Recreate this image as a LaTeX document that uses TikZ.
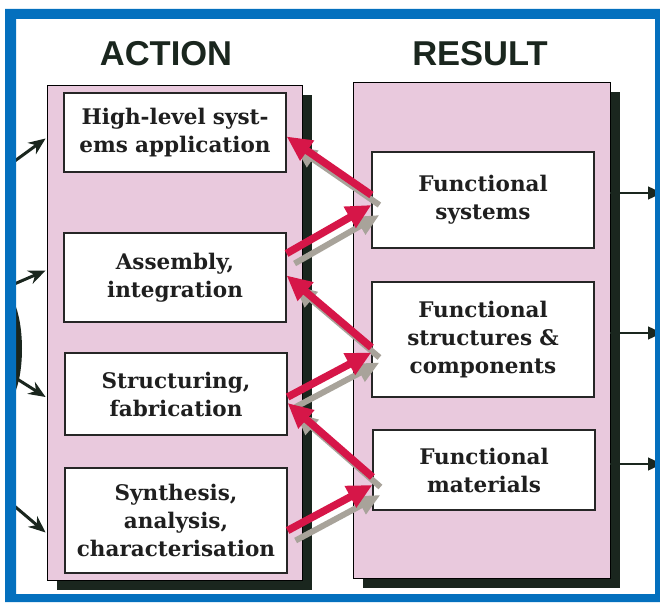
\documentclass[tikz,border=0pt]{standalone}
\usepackage{fontspec}
\setmainfont{DejaVu Serif}
\newfontfamily\headfont{Liberation Sans}
\usepackage{xcolor}
\usepackage{tikz}
\usetikzlibrary{arrows.meta, positioning, calc, shadows}

\definecolor{panelpink}{RGB}{233,201,221}
\definecolor{panelshade}{RGB}{26,38,30}
\definecolor{arrowred}{RGB}{214,22,72}
\definecolor{arrowgrey}{RGB}{168,163,154}
\definecolor{frameblue}{RGB}{4,112,190}

\begin{document}
\begin{tikzpicture}[
    x=1pt, y=1pt,
    panel/.style = {rectangle, draw=black, line width=0.8pt, fill=panelpink, inner sep=0pt,
        drop shadow={shadow xshift=10pt, shadow yshift=-10pt, fill=panelshade, opacity=1}},
    stage/.style = {rectangle, draw=black!85, line width=1.2pt, fill=white, minimum width=222pt,
        text width=212pt, inner sep=2pt, align=center, text=black!88, font=\bfseries\fontsize{21.5}{28}\selectfont},
    heading/.style = {text=panelshade, font=\headfont\bfseries\fontsize{34.5}{38}\selectfont},
    redarrow/.style = {draw=arrowred, line width=7.5pt, -{Triangle[length=25pt,width=23pt]}},
    greyarrow/.style = {draw=arrowgrey, line width=6pt, -{Triangle[length=22pt,width=19pt]},
        transform canvas={shift={(8pt,-10pt)}}},
    inarrow/.style = {draw=panelshade, line width=3pt, -{Stealth[length=17pt,width=14pt]}},
    outarrow/.style = {draw=panelshade, line width=1.4pt, -{Triangle[length=14pt,width=13pt]}}
]
    \useasboundingbox (0,0) rectangle (660,-604);

    % two columns
    \node[panel, minimum width=255pt, minimum height=495pt] (actpanel) at (174.5,-332.5) {};
    \node[panel, minimum width=257pt, minimum height=496pt] (respanel) at (481.5,-330) {};
    \node[heading] (acttitle) at (166,-54) {ACTION};
    \node[heading] (restitle) at (480,-54) {RESULT};

    \node[stage, minimum height=79pt] (act1) at (175,-132.5) {High-level syst-\\ems application};
    \node[stage, minimum height=89pt] (act2) at (175,-277.5) {Assembly,\\integration};
    \node[stage, minimum height=82pt] (act3) at (176,-394) {Structuring,\\fabrication};
    \node[stage, minimum height=105pt] (act4) at (176,-520.5) {Synthesis,\\analysis,\\characterisation};

    \node[stage, minimum height=96pt] (res1) at (483,-200) {Functional\\systems};
    \node[stage, minimum height=115pt] (res2) at (483,-339.5) {Functional\\structures \&\\components};
    \node[stage, minimum height=80pt] (res3) at (484,-470) {Functional\\materials};

    % zig-zag between the columns, grey copies first
    \draw[greyarrow] ([yshift=5]res1.west) -- ([yshift=-4]act1.east);
    \draw[greyarrow] ([yshift=24]act2.east) -- ([yshift=-5]res1.west);
    \draw[greyarrow] ([yshift=-8]res2.west) -- ([yshift=2]act2.east);
    \draw[greyarrow] ([yshift=-3]act3.east) -- ([yshift=-13]res2.west);
    \draw[greyarrow] ([yshift=-7]res3.west) -- ([yshift=-9]act3.east);
    \draw[greyarrow] ([yshift=-10]act4.east) -- ([yshift=-15]res3.west);

    \draw[redarrow] ([yshift=5]res1.west) -- ([yshift=-4]act1.east);
    \draw[redarrow] ([yshift=24]act2.east) -- ([yshift=-5]res1.west);
    \draw[redarrow] ([yshift=-8]res2.west) -- ([yshift=2]act2.east);
    \draw[redarrow] ([yshift=-3]act3.east) -- ([yshift=-13]res2.west);
    \draw[redarrow] ([yshift=-7]res3.west) -- ([yshift=-9]act3.east);
    \draw[redarrow] ([yshift=-10]act4.east) -- ([yshift=-15]res3.west);

    % inputs on the left
    \coordinate (in1) at (12,-163);
    \coordinate (in2) at (12,-285);
    \coordinate (in3) at (14,-377);
    \coordinate (in4) at (12,-504);
    \draw[inarrow] (in1) -- ($(actpanel.west |- act1)+(-1,-6)$);
    \draw[inarrow] (in2) -- ($(actpanel.west |- act2)+(-1,7)$);
    \draw[inarrow] (in3) -- ($(actpanel.west |- act3)+(-1,-3)$);
    \draw[inarrow] (in4) -- ($(actpanel.west |- act4)+(-1,-12)$);
    \fill[panelshade] (16,-307) .. controls (24,-330) and (24,-368) .. (16,-390) -- cycle;

    % outputs on the right
    \coordinate (out1) at (662,-193);
    \coordinate (out2) at (662,-333);
    \coordinate (out3) at (662,-464);
    \draw[outarrow] (respanel.east |- out1) -- (out1);
    \draw[outarrow] (respanel.east |- out2) -- (out2);
    \draw[outarrow] (respanel.east |- out3) -- (out3);

    % blue frame
    \fill[frameblue, even odd rule] (5,-9) rectangle (666,-602) (16,-19) rectangle (655,-594);
\end{tikzpicture}
\end{document}
